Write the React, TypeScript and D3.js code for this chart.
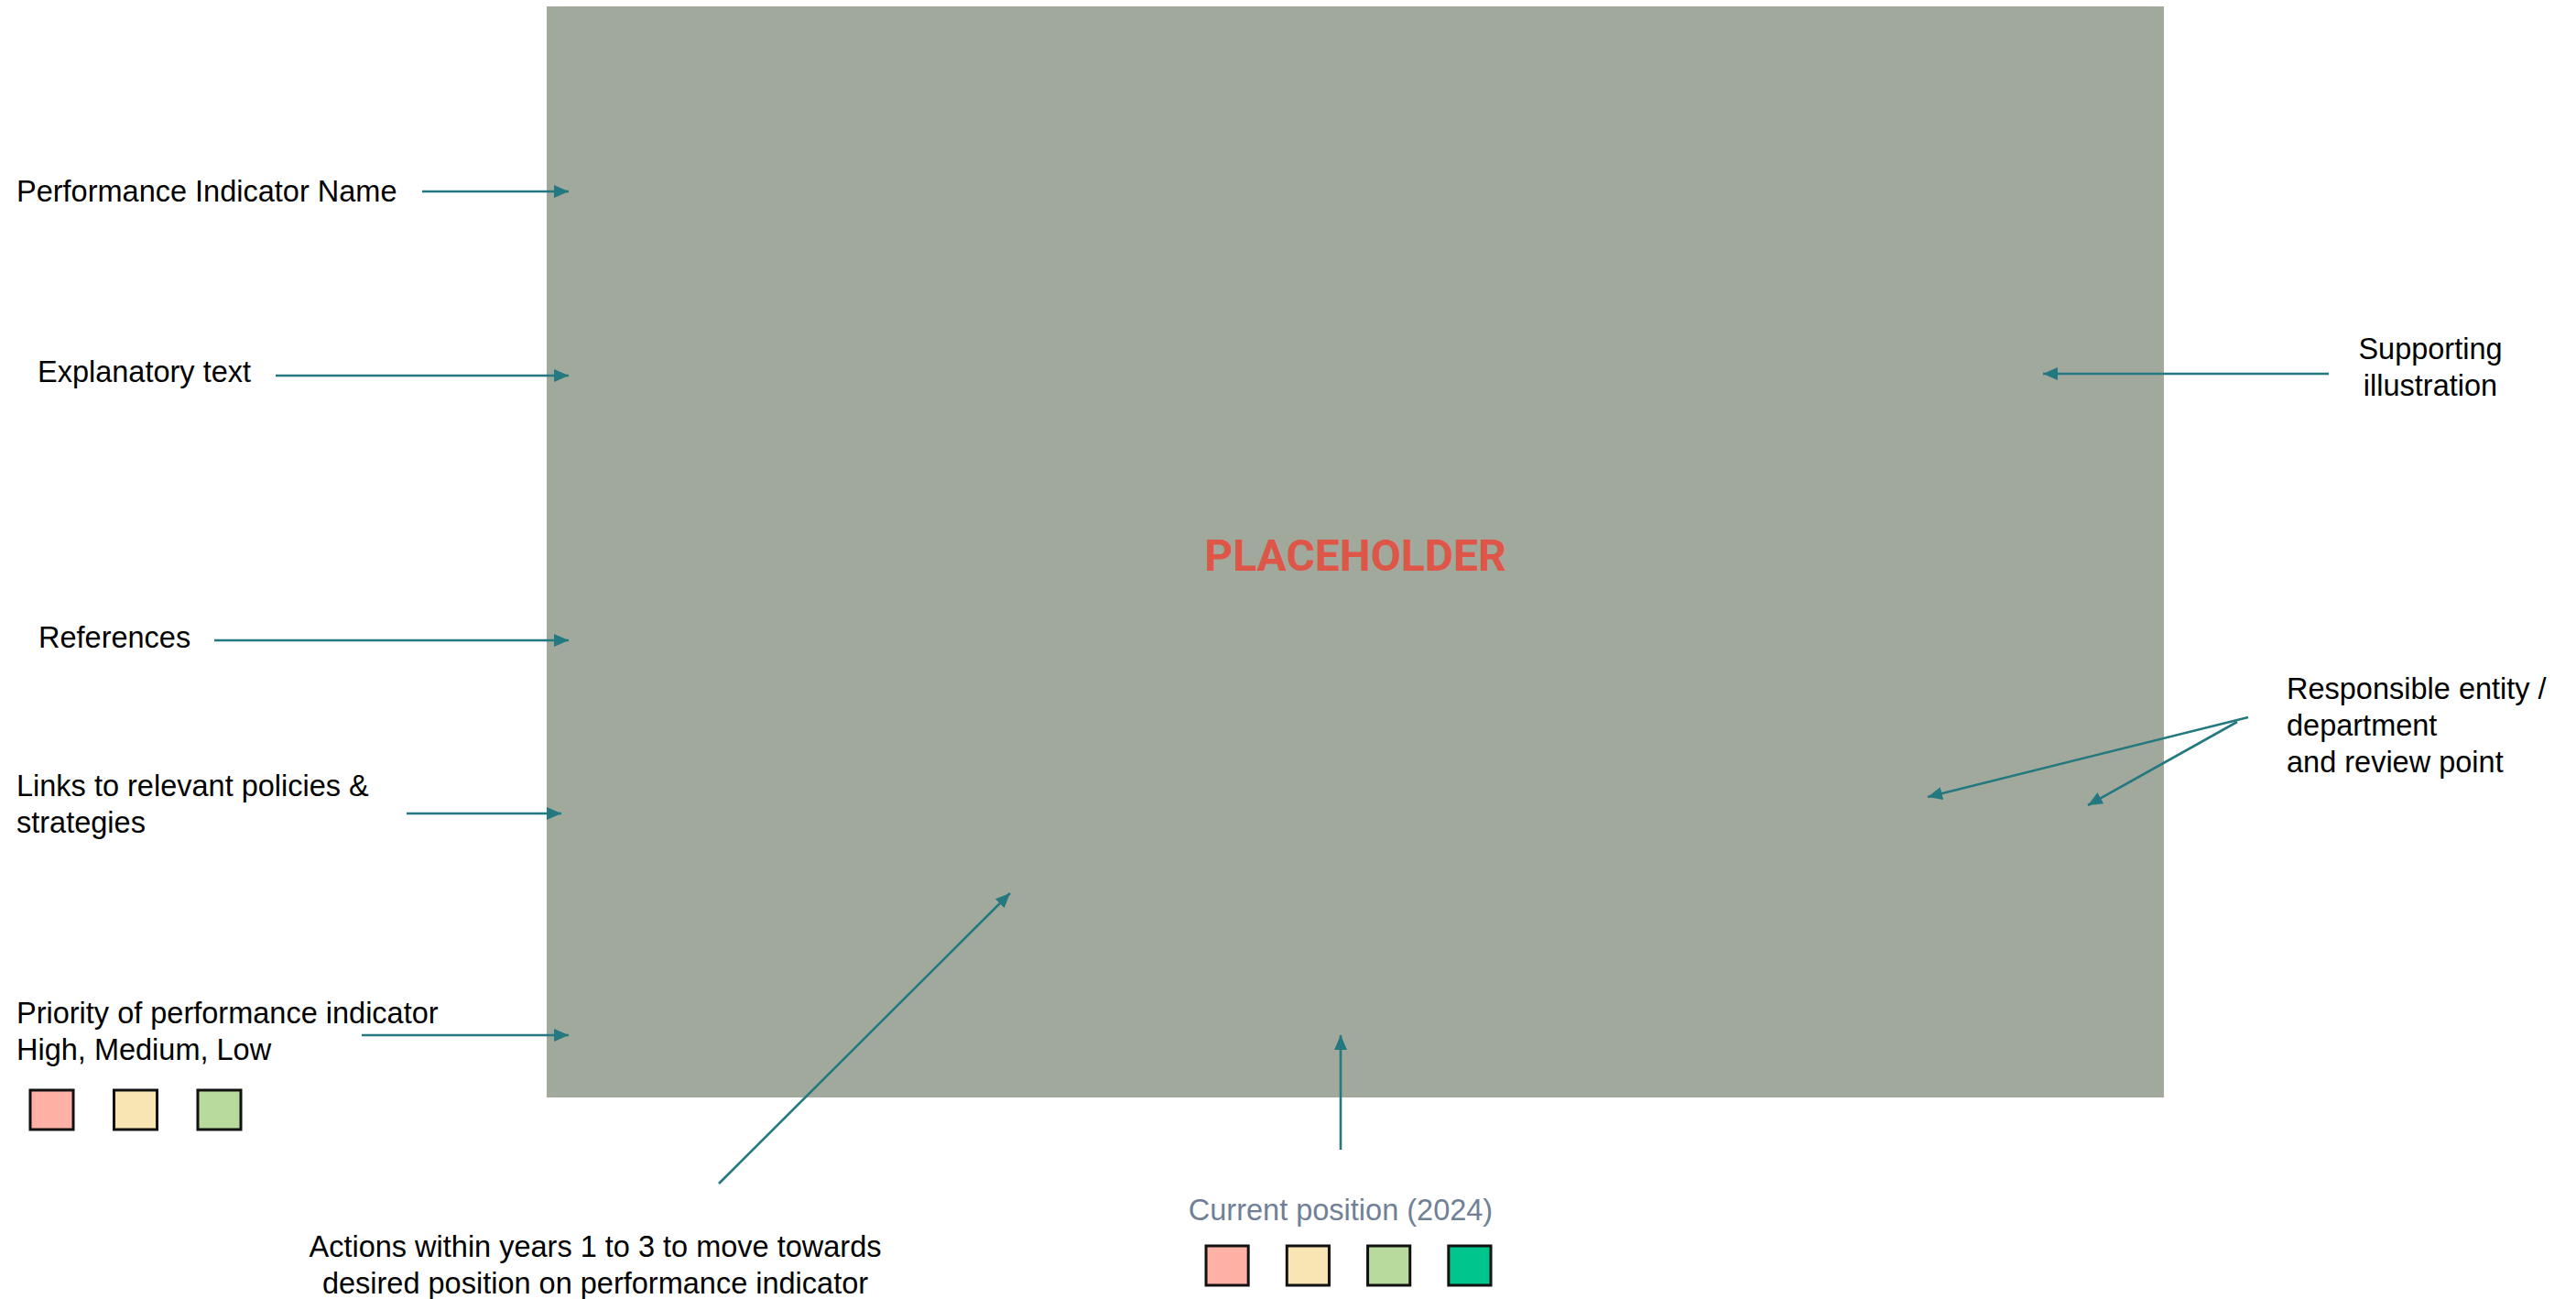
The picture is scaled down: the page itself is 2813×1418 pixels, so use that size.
import React from 'react';
import { scaleBand, line } from 'd3';

const width = 2813;
const height = 1418;

const teal = '#24787f';
const panelFill = '#a1a99d';

// annotation labels
const leftLabels = [
    ['Performance Indicator Name'],
    ['Explanatory text'],
    ['References'],
    ['Links to relevant policies &', 'strategies'],
    ['Priority of performance indicator', 'High, Medium, Low'],
];
const rightLabels = [
    ['Supporting', 'illustration'],
    ['Responsible entity /', 'department', 'and review point'],
];
const bottomLabels = [
    ['Actions within years 1 to 3 to move towards', 'desired position on performance indicator'],
    ['Current position (2024)'],
];

const priorityLevels = ['High', 'Medium', 'Low'];
const priorityColors = ['#ffb1a6', '#f9e4b4', '#b8da9d'];
const positionLevels = ['Red', 'Amber', 'Green', 'Dark green'];
const positionColors = ['#ffb1a6', '#f9e4b4', '#b8da9d', '#00c58c'];

// layout (px)
const panel = { x: 597, y: 7, w: 1766, h: 1191 };
const leftAnchors = [[18, 220], [41, 417], [42, 707], [18, 869], [18, 1117]];
const rightAnchors = [[2654, 392, 'middle'], [2497, 763, 'start']];
const bottomAnchors = [[650, 1372, '#000'], [1464, 1332, '#718096']];

const arrows = [
    [[461, 209], [621, 209]],
    [[301, 410], [621, 410]],
    [[234, 699], [621, 699]],
    [[444, 888], [613, 888]],
    [[395, 1130], [621, 1130]],
    [[2543, 408], [2231, 408]],
    [[2455, 783], [2105, 870]],
    [[2443, 788], [2280, 879]],
    [[785, 1292], [1103, 975]],
    [[1464, 1255], [1464, 1130]],
];

const lineGap = 40;
const font = '"Helvetica Neue", Helvetica, "Liberation Sans", Arial, sans-serif';

const priorityX = scaleBand().domain(priorityLevels).range([33, 263]).paddingInner(0.486);
const positionX = scaleBand().domain(positionLevels).range([1317, 1628]).paddingInner(0.477);

const path = line();

function Label({ lines, x, y, anchor = 'start', fill = '#000' }) {
    return (
        <text x={x} y={y} textAnchor={anchor} fill={fill} fontSize={32.5} fontFamily={font}>
            {lines.map((t, i) => (
                <tspan key={i} x={x} dy={i === 0 ? 0 : lineGap}>{t}</tspan>
            ))}
        </text>
    );
}

export default function App() {
    return (
        <svg width={width} height={height} style={{ position: 'absolute', left: 0, top: 0, display: 'block', background: '#fff' }}>
            <defs>
                <marker id="head" viewBox="0 0 16 14" refX={16} refY={7} markerWidth={16} markerHeight={14}
                    markerUnits="userSpaceOnUse" orient="auto">
                    <path d="M0,0 L16,7 L0,14 Z" fill={teal} />
                </marker>
            </defs>

            <rect x={panel.x} y={panel.y} width={panel.w} height={panel.h} fill={panelFill} />
            <text x={panel.x + 883} y={623} textAnchor="middle" fill="#de5647" fontSize={48}
                fontWeight={700} fontFamily="Roboto, 'Liberation Sans', sans-serif">
                PLACEHOLDER
            </text>

            {arrows.map((a, i) => (
                <path key={i} d={path(a)} stroke={teal} strokeWidth={2.6} fill="none" markerEnd="url(#head)" />
            ))}

            {leftLabels.map((l, i) => (
                <Label key={i} lines={l} x={leftAnchors[i][0]} y={leftAnchors[i][1]} />
            ))}
            {rightLabels.map((l, i) => (
                <Label key={i} lines={l} x={rightAnchors[i][0]} y={rightAnchors[i][1]} anchor={rightAnchors[i][2]} />
            ))}
            {bottomLabels.map((l, i) => (
                <Label key={i} lines={l} x={bottomAnchors[i][0]} y={bottomAnchors[i][1]} anchor="middle" fill={bottomAnchors[i][2]} />
            ))}

            {priorityLevels.map((p, i) => (
                <rect key={p} x={priorityX(p)} y={1190} width={priorityX.bandwidth()} height={43}
                    fill={priorityColors[i]} stroke="#111" strokeWidth={3} />
            ))}
            {positionLevels.map((p, i) => (
                <rect key={p} x={positionX(p)} y={1360} width={positionX.bandwidth()} height={43}
                    fill={positionColors[i]} stroke="#111" strokeWidth={3} />
            ))}
        </svg>
    );
}
